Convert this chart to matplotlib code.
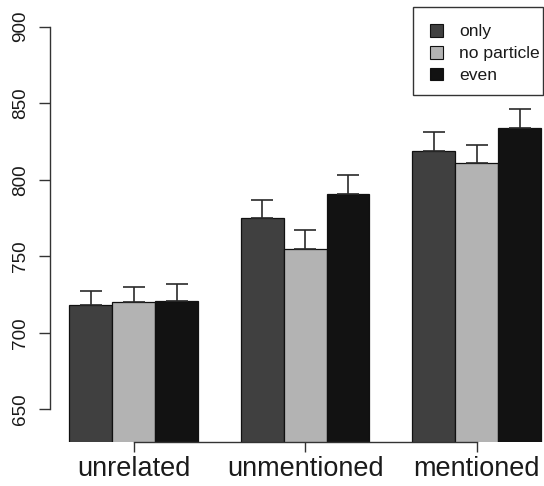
import matplotlib
matplotlib.use("Agg")
import matplotlib.pyplot as plt
from matplotlib.patches import Patch, Rectangle
import numpy as np

plt.rcParams['font.family'] = ['Liberation Sans', 'DejaVu Sans']

categories = ["unrelated", "unmentioned", "mentioned"]
series = ["only", "no particle", "even"]
only_vals = [718, 775, 819]
nopart_vals = [720, 755, 811]
even_vals = [721, 791, 834]
only_err = [9, 12, 12]
nopart_err = [10, 12, 12]
even_err = [11, 12, 12]
colors = ["#404040", "#b3b3b3", "#121212"]
yticks = [650, 700, 750, 800, 850, 900]

values = [only_vals, nopart_vals, even_vals]
errors = [only_err, nopart_err, even_err]

fig = plt.figure(figsize=(5.44, 4.86), dpi=100)
W, H = 544, 486
unit = 42.88
left_px = 69.3 - 0.44 * unit
ax = fig.add_axes([left_px / W, 1 - 441.5 / H, 11.88 * unit / W, (441.5 - 7) / H])
ax.set_xlim(0.56, 12.44)
y_bottom = 650 - (441.5 - 409.3) / 1.5304
y_top = 900 + (26.7 - 7) / 1.5304
ax.set_ylim(y_bottom, y_top)

base = 600
handles = []
for b, (vals, errs, col, name) in enumerate(zip(values, errors, colors, series)):
    x = np.array([1 + 4 * g + b + 0.5 for g in range(len(categories))])
    v = np.array(vals)
    ax.bar(x, v - base, bottom=base, width=1.0, color=col, edgecolor="#111111",
           linewidth=0.9, zorder=2)
    ax.errorbar(x, v, yerr=[np.zeros(len(v)), np.array(errs)], fmt="none",
                ecolor="#2a2a2a", elinewidth=1.2, capsize=8.2, capthick=1.2, zorder=3)
    handles.append(Patch(facecolor=col, edgecolor="#111111", linewidth=0.8, label=name))

centers = [1 + 4 * g + 1.5 for g in range(len(categories))]
ax.set_xticks(centers)
ax.set_xticklabels(categories, fontsize=19.5, color="#1a1a1a")
ax.set_yticks(yticks)
ax.set_yticklabels([str(t) for t in yticks], fontsize=13.6, rotation=90,
                   va="center", color="#1a1a1a")

for s in ["top", "right"]:
    ax.spines[s].set_visible(False)
ax.spines["left"].set_bounds(650, 900)
ax.spines["bottom"].set_bounds(centers[0], centers[-1])
for s in ["left", "bottom"]:
    ax.spines[s].set_color("#333333")
    ax.spines[s].set_linewidth(1.0)
ax.tick_params(axis="y", direction="out", length=8.2, width=1.0, color="#333333", pad=7)
ax.tick_params(axis="x", direction="out", length=7.2, width=1.0, color="#333333", pad=3.5)

fs = 12.6
fs_px = fs * 100 / 72
leg = ax.legend(handles=handles, loc="upper left", fontsize=fs,
                bbox_to_anchor=(430 / W, 1 - 24 / H), bbox_transform=fig.transFigure,
                frameon=False, borderpad=0, labelspacing=0.36,
                handlelength=13 / fs_px, handleheight=13 / fs_px,
                handletextpad=16 / fs_px, borderaxespad=0)
for t in leg.get_texts():
    t.set_color("#1a1a1a")

# legend frame (R style: asymmetric padding)
fig.add_artist(Rectangle((413 / W, 1 - 95 / H), (543 - 413) / W, (95 - 6.7) / H,
                         transform=fig.transFigure, fill=False,
                         edgecolor="#333333", linewidth=1.0))

fig.savefig("out.png", dpi=100)
